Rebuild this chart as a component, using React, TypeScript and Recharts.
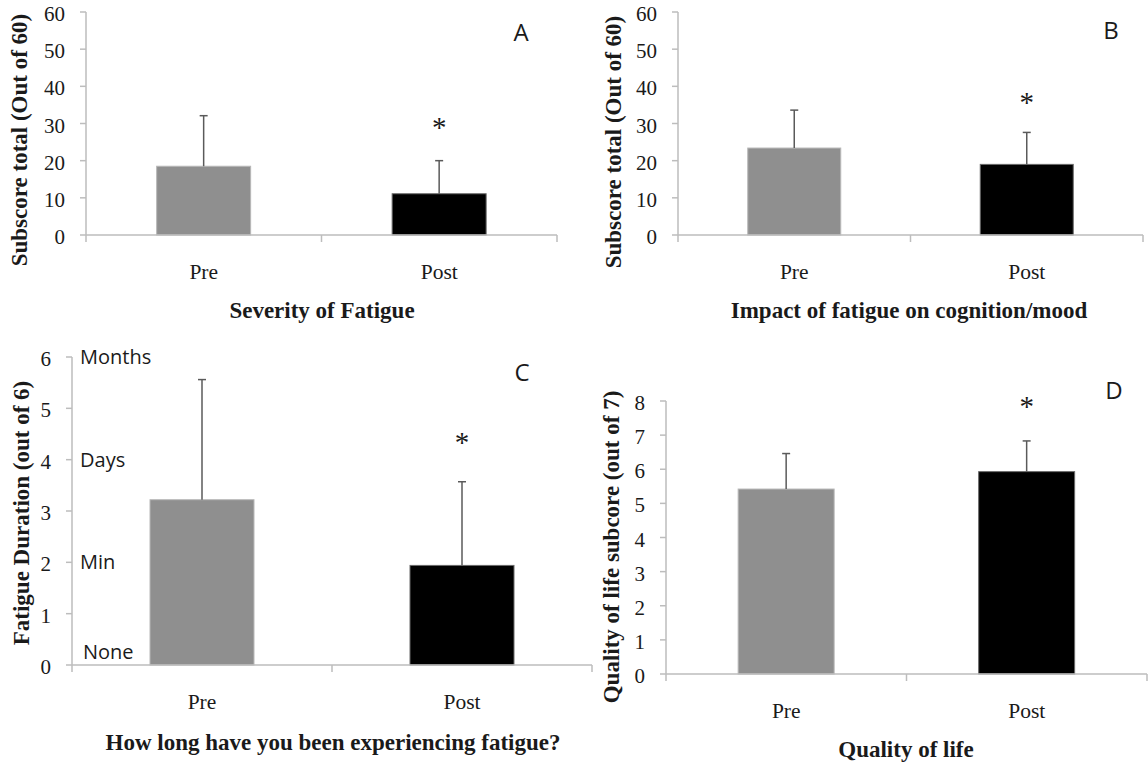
import React from "react";
import { BarChart, Bar, XAxis, YAxis } from "recharts";

const groups = ["Pre", "Post"];
const barColors = ["#8f8f8f", "#000000"];
const barEdges = ["#b8b8b8", "#6a6a6a"];

// A - severity of fatigue
const severityMean = [18.5, 11.1];
const severitySd = [13.6, 8.9];
const severityStar = [null, 30.4];

// B - impact on cognition / mood
const impactMean = [23.4, 19.0];
const impactSd = [10.2, 8.6];
const impactStar = [null, 37.1];

// C - fatigue duration
const durationMean = [3.22, 1.94];
const durationSd = [2.34, 1.63];
const durationStar = [null, 4.44];

// D - quality of life
const qolMean = [5.42, 5.93];
const qolSd = [1.04, 0.9];
const qolStar = [null, 8.0];

const subscoreTicks = [0, 10, 20, 30, 40, 50, 60];
const durationTicks = [0, 1, 2, 3, 4, 5, 6];
const durationWordTicks = [6, 4, 2, 0];
const durationWords = ["Months", "Days", "Min", "None"];
const qolTicks = [0, 1, 2, 3, 4, 5, 6, 7, 8];

const SERIF = '"Liberation Serif", "Times New Roman", serif';
const SANS = '"Open Sans", "Liberation Sans", sans-serif';
const AXIS = "#bdbdbd";
const ERR = "#5a5a5a";
const INK = "#1a1a1a";

const toRows = (mean: number[], sd: number[], star: (number | null)[]) =>
  groups.map((g, i) => ({ group: g, mean: mean[i], sd: sd[i], star: star[i] }));

const BarWithError = (props: any) => {
  const { x, y, width, height, payload, index } = props;
  const perUnit = payload.mean ? height / payload.mean : 0;
  const cx = x + width / 2;
  const errY = y - payload.sd * perUnit;
  const starY =
    payload.star != null ? y - (payload.star - payload.mean) * perUnit : null;
  return (
    <g>
      <rect
        x={x}
        y={y}
        width={width}
        height={height}
        fill={barColors[index]}
        stroke={barEdges[index]}
        strokeWidth={1}
      />
      <line x1={cx} y1={y} x2={cx} y2={errY} stroke={ERR} strokeWidth={1.5} />
      <line x1={cx - 4} y1={errY} x2={cx + 4} y2={errY} stroke={ERR} strokeWidth={1.5} />
      {starY != null && (
        <text x={cx} y={starY + 15} textAnchor="middle" fontFamily={SERIF} fontSize={29} fill={INK}>
          *
        </text>
      )}
    </g>
  );
};

const makeYTick = (wordTicks: number[] = [], words: string[] = []) => (props: any) => {
  const { x, y, payload } = props;
  const wi = wordTicks.indexOf(payload.value);
  const isBottom = payload.value === 0;
  return (
    <g>
      <text x={x} y={y + 9} textAnchor="end" fontFamily={SERIF} fontSize={21} fill={INK}>
        {payload.value}
      </text>
      {wi >= 0 && (
        <text
          x={x + (isBottom ? 32 : 29)}
          y={isBottom ? y - 6 : y + 7}
          fontFamily={SANS}
          fontSize={20}
          fill={INK}
        >
          {words[wi]}
        </text>
      )}
    </g>
  );
};

const makeXTick = (band: number, count: number) => (props: any) => {
  const { x, y, payload, index } = props;
  return (
    <g>
      <line x1={x - band / 2} y1={y} x2={x - band / 2} y2={y + 7} stroke={AXIS} strokeWidth={1.5} />
      {index === count - 1 && (
        <line x1={x + band / 2} y1={y} x2={x + band / 2} y2={y + 7} stroke={AXIS} strokeWidth={1.5} />
      )}
      <text x={x} y={y + 44} textAnchor="middle" fontFamily={SERIF} fontSize={21.5} fill={INK}>
        {payload.value}
      </text>
    </g>
  );
};

type PanelProps = {
  left: number;
  top: number;
  width: number;
  height: number;
  margin: { top: number; right: number; left: number; bottom: number };
  yWidth: number;
  xHeight: number;
  plotWidth: number;
  rows: any[];
  ymax: number;
  ticks: number[];
  yTick: any;
  yLabel: string;
  yLabelPos: [number, number];
  title: string;
  titlePos: [number, number];
  letter: string;
  letterPos: [number, number];
};

const Panel = (p: PanelProps) => (
  <div style={{ position: "absolute", left: p.left, top: p.top }}>
    <BarChart width={p.width} height={p.height} data={p.rows} margin={p.margin} barCategoryGap="30%">
      <XAxis
        dataKey="group"
        axisLine={{ stroke: AXIS, strokeWidth: 1.5 }}
        tickLine={false}
        tickSize={0}
        tickMargin={0}
        interval={0}
        height={p.xHeight}
        tick={makeXTick(p.plotWidth / groups.length, groups.length)}
      />
      <YAxis
        type="number"
        domain={[0, p.ymax]}
        ticks={p.ticks}
        interval={0}
        width={p.yWidth}
        axisLine={{ stroke: AXIS, strokeWidth: 1.5 }}
        tickLine={{ stroke: AXIS, strokeWidth: 1.5 }}
        tickSize={6}
        tickMargin={15}
        tick={p.yTick}
      />
      <Bar dataKey="mean" isAnimationActive={false} shape={(s: any) => <BarWithError {...s} />} />
      <text
        transform={`translate(${p.yLabelPos[0]},${p.yLabelPos[1]}) rotate(-90)`}
        textAnchor="middle"
        dominantBaseline="central"
        fontFamily={SERIF}
        fontSize={23}
        fontWeight="bold"
        fill={INK}
      >
        {p.yLabel}
      </text>
      <text
        x={p.titlePos[0]}
        y={p.titlePos[1]}
        textAnchor="middle"
        fontFamily={SERIF}
        fontSize={23}
        fontWeight="bold"
        fill={INK}
      >
        {p.title}
      </text>
      <text
        x={p.letterPos[0]}
        y={p.letterPos[1]}
        textAnchor="middle"
        fontFamily={SANS}
        fontSize={24}
        fill={INK}
      >
        {p.letter}
      </text>
    </BarChart>
  </div>
);

export default function App() {
  return (
    <div style={{ position: "absolute", left: 0, top: 0, width: 1148, height: 763, background: "#fff" }}>
      <Panel
        left={0}
        top={0}
        width={570}
        height={330}
        margin={{ top: 12, right: 13, left: 0, bottom: 0 }}
        yWidth={86}
        xHeight={95}
        plotWidth={471}
        rows={toRows(severityMean, severitySd, severityStar)}
        ymax={60}
        ticks={subscoreTicks}
        yTick={makeYTick()}
        yLabel="Subscore total (Out of 60)"
        yLabelPos={[19, 140]}
        title="Severity of Fatigue"
        titlePos={[322, 318]}
        letter="A"
        letterPos={[521, 41]}
      />
      <Panel
        left={570}
        top={0}
        width={578}
        height={330}
        margin={{ top: 12, right: 5, left: 0, bottom: 0 }}
        yWidth={108}
        xHeight={95}
        plotWidth={465}
        rows={toRows(impactMean, impactSd, impactStar)}
        ymax={60}
        ticks={subscoreTicks}
        yTick={makeYTick()}
        yLabel="Subscore total (Out of 60)"
        yLabelPos={[43, 142]}
        title="Impact of fatigue on cognition/mood"
        titlePos={[339, 318]}
        letter="B"
        letterPos={[541, 39]}
      />
      <Panel
        left={0}
        top={330}
        width={600}
        height={433}
        margin={{ top: 27, right: 8, left: 0, bottom: 0 }}
        yWidth={72}
        xHeight={98}
        plotWidth={520}
        rows={toRows(durationMean, durationSd, durationStar)}
        ymax={6}
        ticks={durationTicks}
        yTick={makeYTick(durationWordTicks, durationWords)}
        yLabel="Fatigue Duration (out of 6)"
        yLabelPos={[21, 183]}
        title="How long have you been experiencing fatigue?"
        titlePos={[333, 420]}
        letter="C"
        letterPos={[522, 51]}
      />
      <Panel
        left={580}
        top={330}
        width={568}
        height={433}
        margin={{ top: 71, right: 1, left: 0, bottom: 0 }}
        yWidth={86}
        xHeight={89}
        plotWidth={481}
        rows={toRows(qolMean, qolSd, qolStar)}
        ymax={8}
        ticks={qolTicks}
        yTick={makeYTick()}
        yLabel="Quality of life subcore (out of 7)"
        yLabelPos={[31, 217]}
        title="Quality of life"
        titlePos={[326, 427]}
        letter="D"
        letterPos={[534, 69]}
      />
    </div>
  );
}
